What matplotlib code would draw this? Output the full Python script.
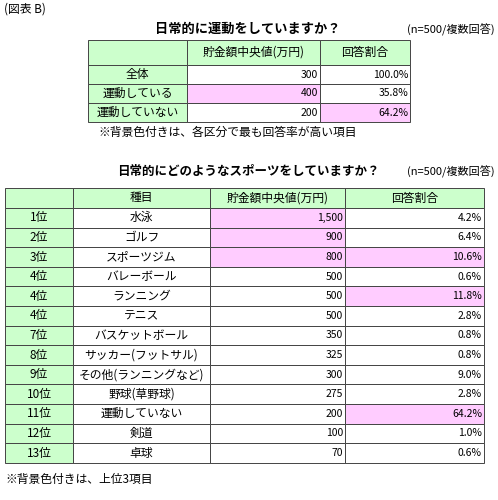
import matplotlib
matplotlib.use("Agg")
import matplotlib.pyplot as plt
from matplotlib.patches import Rectangle

plt.rcParams['font.family'] = ['Noto Sans CJK JP', 'DejaVu Sans']

t1_rows = ["全体", "運動している", "運動していない"]
t1_savings = [300, 400, 200]
t1_share = [100.0, 35.8, 64.2]
t1_hl_sav = [False, True, False]
t1_hl_share = [False, False, True]

ranks = ["1位", "2位", "3位", "4位", "4位", "4位", "7位", "8位", "9位", "10位", "11位", "12位", "13位"]
sports = ["水泳", "ゴルフ", "スポーツジム", "バレーボール", "ランニング", "テニス", "バスケットボール",
          "サッカー(フットサル)", "その他(ランニングなど)", "野球(草野球)", "運動していない", "剣道", "卓球"]
savings = [1500, 900, 800, 500, 500, 500, 350, 325, 300, 275, 200, 100, 70]
share = [4.2, 6.4, 10.6, 0.6, 11.8, 2.8, 0.8, 0.8, 9.0, 2.8, 64.2, 1.0, 0.6]
hl_sav = [True, True, True] + [False] * 10
hl_share = [False, False, True, False, True] + [False] * 5 + [True, False, False]

GREEN = "#CCFFCC"
PINK = "#FFCCFF"

fig = plt.figure(figsize=(4.98, 5.0), dpi=100)
ax = fig.add_axes([0, 0, 1, 1])
ax.set_xlim(0, 498)
ax.set_ylim(500, 0)
ax.axis("off")

def cell(x0, x1, y0, y1, color, text="", ha="center", fs=8.5):
    ax.add_patch(Rectangle((x0, y0), x1 - x0, y1 - y0, facecolor=color, edgecolor="#444444", lw=0.7))
    if text:
        if ha == "center":
            tx = (x0 + x1) / 2
        elif ha == "right":
            tx = x1 - 2
        else:
            tx = x0 + 3
        ax.text(tx, (y0 + y1) / 2, text, ha=ha, va="center", fontsize=fs)

ax.text(4, 9, "(図表 B)", ha="left", va="center", fontsize=8.5)

# Table 1
ax.text(248, 29, "日常的に運動をしていますか？", ha="center", va="center", fontsize=9.5, fontweight="bold")
ax.text(495, 30, "(n=500/複数回答)", ha="right", va="center", fontsize=8)
c1 = [88, 187, 320, 410]
ry = [40, 65, 84, 103, 122]
cell(c1[0], c1[1], ry[0], ry[1], GREEN)
cell(c1[1], c1[2], ry[0], ry[1], GREEN, "貯金額中央値(万円)")
cell(c1[2], c1[3], ry[0], ry[1], GREEN, "回答割合")
for i in range(3):
    cell(c1[0], c1[1], ry[i + 1], ry[i + 2], GREEN, t1_rows[i])
    cell(c1[1], c1[2], ry[i + 1], ry[i + 2], PINK if t1_hl_sav[i] else "white", f"{t1_savings[i]:,}", ha="right", fs=7.5)
    cell(c1[2], c1[3], ry[i + 1], ry[i + 2], PINK if t1_hl_share[i] else "white", f"{t1_share[i]:.1f}%", ha="right", fs=7.5)
ax.text(98, 132, "※背景色付きは、各区分で最も回答率が高い項目", ha="left", va="center", fontsize=8.5)

# Table 2
ax.text(248, 172, "日常的にどのようなスポーツをしていますか？", ha="center", va="center", fontsize=9, fontweight="bold")
ax.text(495, 172, "(n=500/複数回答)", ha="right", va="center", fontsize=8)
c2 = [5, 73, 210, 345, 484]
top, hh, rh = 188, 20, 19.6
cell(c2[0], c2[1], top, top + hh, GREEN)
cell(c2[1], c2[2], top, top + hh, GREEN, "種目")
cell(c2[2], c2[3], top, top + hh, GREEN, "貯金額中央値(万円)")
cell(c2[3], c2[4], top, top + hh, GREEN, "回答割合")
for i in range(len(ranks)):
    y0 = top + hh + i * rh
    y1 = y0 + rh
    cell(c2[0], c2[1], y0, y1, GREEN, ranks[i])
    cell(c2[1], c2[2], y0, y1, "white", sports[i])
    cell(c2[2], c2[3], y0, y1, PINK if hl_sav[i] else "white", f"{savings[i]:,}", ha="right", fs=7.5)
    cell(c2[3], c2[4], y0, y1, PINK if hl_share[i] else "white", f"{share[i]:.1f}%", ha="right", fs=7.5)
ax.text(5, 479, "※背景色付きは、上位3項目", ha="left", va="center", fontsize=8.5)

fig.savefig("out.png", dpi=100)
